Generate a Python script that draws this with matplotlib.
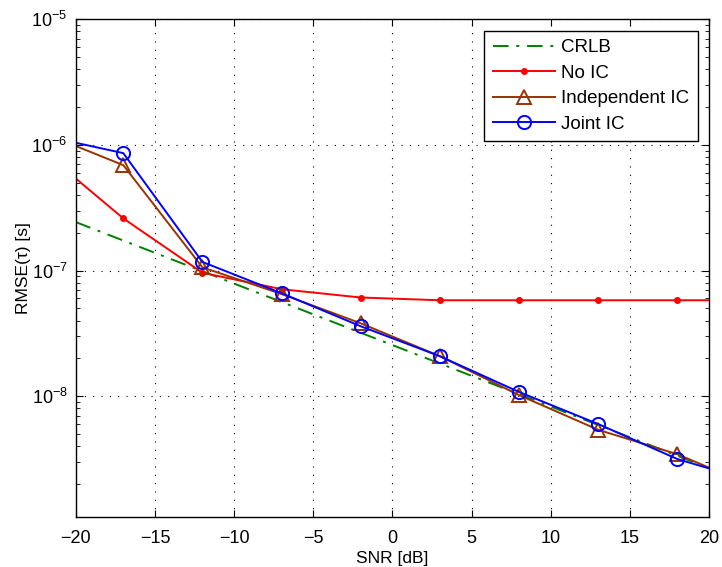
import numpy as np
import matplotlib
matplotlib.use('Agg')
import matplotlib.pyplot as plt

plt.rcParams['font.family'] = ['Liberation Sans', 'DejaVu Sans']
plt.rcParams['mathtext.fontset'] = 'custom'
plt.rcParams['mathtext.rm'] = 'Liberation Sans'

# SNR points (edges at -20 / 20 have no marker)
snr = [-20, -17, -12, -7, -2, 3, 8, 13, 18, 20]

crlb_snr = [-20, 20]
crlb = [2.43e-7, 2.68e-9]

no_ic = [5.4e-7, 2.6e-7, 9.6e-8, 7.1e-8, 6.1e-8, 5.8e-8, 5.8e-8, 5.8e-8, 5.8e-8, 5.8e-8]
indep_ic = [9.8e-7, 6.9e-7, 1.06e-7, 6.5e-8, 3.8e-8, 2.08e-8, 1.02e-8, 5.4e-9, 3.45e-9, 2.7e-9]
joint_ic = [1.04e-6, 8.6e-7, 1.17e-7, 6.6e-8, 3.6e-8, 2.08e-8, 1.08e-8, 6.0e-9, 3.16e-9, 2.66e-9]

marks = list(range(1, 9))

fig = plt.figure(figsize=(7.22, 5.67), dpi=100)
ax = fig.add_axes([0.105, 0.088, 0.877, 0.878])

ax.semilogy(crlb_snr, crlb, color=(0, 0.5, 0), ls=(0, (8, 4, 1.5, 4)), lw=1.4, label='CRLB')
ax.semilogy(snr, no_ic, color='red', lw=1.4, marker='.', ms=8, markevery=marks, label='No IC')
ax.semilogy(snr, indep_ic, color=(0.6, 0.2, 0), lw=1.4, marker='^', ms=9.5, mfc='none', mew=1.4,
            markevery=marks, label='Independent IC')
ax.semilogy(snr, joint_ic, color='blue', lw=1.4, marker='o', ms=9.5, mfc='none', mew=1.4,
            markevery=marks, label='Joint IC')

ax.set_xlim(-20, 20)
ax.set_ylim(1.09e-9, 1e-5)
ax.set_xticks(np.arange(-20, 21, 5))
ax.set_xticklabels(['\u221220', '\u221215', '\u221210', '\u22125', '0', '5', '10', '15', '20'])
ax.set_yticks([1e-8, 1e-7, 1e-6, 1e-5])
ax.set_yticklabels([r'$10^{-8}$', r'$10^{-7}$', r'$10^{-6}$', r'$10^{-5}$'])

ax.grid(True, which='major', color='black', ls=(0, (1, 6.5)), lw=0.8)
ax.tick_params(which='both', direction='in', top=True, right=True, labelsize=13)
ax.tick_params(axis='x', which='major', length=5, pad=9)
ax.tick_params(axis='y', which='major', length=5, pad=6)
ax.tick_params(which='minor', length=3)
for s in ax.spines.values():
    s.set_linewidth(1.0)

ax.set_xlabel('SNR [dB]', fontsize=12.5, labelpad=3)
ax.set_ylabel('RMSE(\u03c4) [s]', fontsize=12.5, labelpad=0)

leg = ax.legend(loc='upper right', fontsize=13.5, fancybox=False, framealpha=1,
                edgecolor='black', borderpad=0.45, handlelength=3.3, labelspacing=0.45,
                handletextpad=0.35, borderaxespad=0.6)
leg.get_frame().set_linewidth(1.0)

fig.savefig('out.png', dpi=100)
